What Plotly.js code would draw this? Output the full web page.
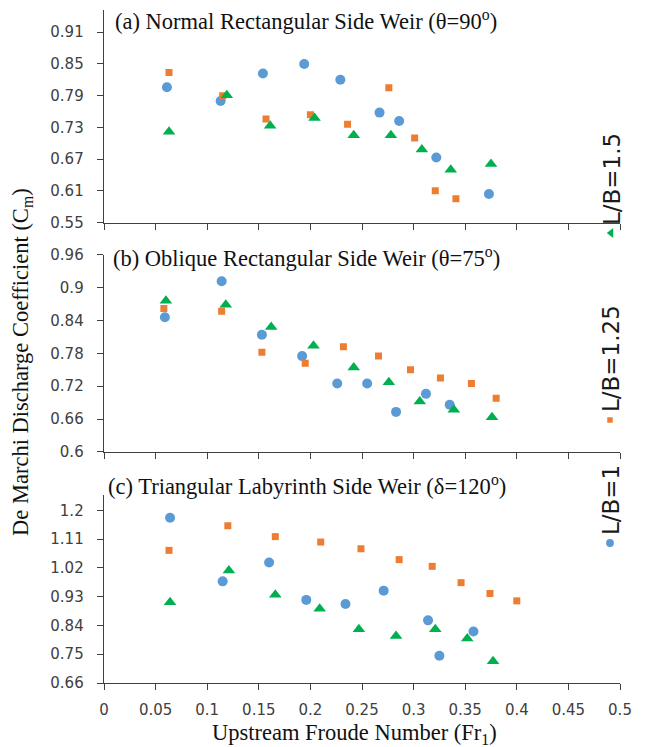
<!DOCTYPE html>
<html>
<head>
<meta charset="utf-8">
<script src="https://cdn.plot.ly/plotly-3.0.1.min.js"></script>
<style>html,body{margin:0;padding:0;background:#fff;}#chart{width:646px;height:747px;}</style>
</head>
<body>
<div id="chart"></div>
<script>
// ---------- DATA ----------
const seriesNames = ["L/B=1", "L/B=1.25", "L/B=1.5"];
const panelTitles = [
  "(a) Normal Rectangular Side Weir (θ=90<sup>o</sup>)",
  "(b) Oblique Rectangular Side Weir (θ=75<sup>o</sup>)",
  "(c) Triangular Labyrinth Side Weir (δ=120<sup>o</sup>)"
];
const xTitle = "Upstream Froude Number (Fr<sub>1</sub>)";
const yTitle = "De Marchi Discharge Coefficient (C<sub>m</sub>)";

// Panel (a)
const frA1   = [0.061, 0.113, 0.154, 0.194, 0.229, 0.267, 0.286, 0.322, 0.373];
const cmA1   = [0.806, 0.780, 0.832, 0.850, 0.820, 0.758, 0.742, 0.673, 0.604];
const frA125 = [0.063, 0.115, 0.157, 0.200, 0.236, 0.276, 0.301, 0.321, 0.341];
const cmA125 = [0.834, 0.790, 0.746, 0.754, 0.736, 0.805, 0.710, 0.610, 0.595];
const frA15  = [0.063, 0.119, 0.161, 0.204, 0.242, 0.278, 0.308, 0.336, 0.375];
const cmA15  = [0.722, 0.791, 0.733, 0.748, 0.715, 0.715, 0.688, 0.650, 0.661];

// Panel (b)
const frB1   = [0.059, 0.114, 0.153, 0.192, 0.226, 0.255, 0.283, 0.312, 0.335];
const cmB1   = [0.846, 0.912, 0.814, 0.775, 0.725, 0.725, 0.673, 0.706, 0.686];
const frB125 = [0.058, 0.114, 0.153, 0.195, 0.232, 0.266, 0.297, 0.326, 0.356, 0.380];
const cmB125 = [0.862, 0.857, 0.782, 0.762, 0.792, 0.775, 0.750, 0.735, 0.725, 0.698];
const frB15  = [0.060, 0.118, 0.162, 0.203, 0.242, 0.276, 0.306, 0.339, 0.376];
const cmB15  = [0.876, 0.869, 0.828, 0.794, 0.754, 0.727, 0.692, 0.677, 0.663];

// Panel (c)
const frC1   = [0.064, 0.115, 0.160, 0.196, 0.234, 0.271, 0.314, 0.325, 0.358];
const cmC1   = [1.177, 0.978, 1.037, 0.920, 0.907, 0.949, 0.856, 0.745, 0.821];
const frC125 = [0.063, 0.120, 0.166, 0.210, 0.249, 0.286, 0.318, 0.346, 0.374, 0.400];
const cmC125 = [1.075, 1.152, 1.118, 1.101, 1.080, 1.046, 1.025, 0.974, 0.940, 0.917];
const frC15  = [0.064, 0.121, 0.166, 0.209, 0.247, 0.283, 0.321, 0.352, 0.377];
const cmC15  = [0.913, 1.012, 0.936, 0.892, 0.828, 0.807, 0.828, 0.799, 0.728];

// ---------- STYLE ----------
const colors  = ["#5B9BD5", "#ED7D31", "#00B050"];
const symbols = ["circle", "square", "triangle-up"];
const sizes   = [10, 7, 11];
const serif = "Liberation Serif, Times New Roman, serif";
const sans  = "DejaVu Sans, sans-serif";

const panels = [
  {xa: "x",  ya: "y",  xs: [frA1, frA125, frA15], ys: [cmA1, cmA125, cmA15]},
  {xa: "x2", ya: "y2", xs: [frB1, frB125, frB15], ys: [cmB1, cmB125, cmB15]},
  {xa: "x3", ya: "y3", xs: [frC1, frC125, frC15], ys: [cmC1, cmC125, cmC15]}
];

const data = [];
panels.forEach((p, pi) => {
  for (let s = 0; s < 3; s++) {
    data.push({
      type: "scatter", mode: "markers",
      x: p.xs[s], y: p.ys[s], xaxis: p.xa, yaxis: p.ya,
      name: seriesNames[s],
      showlegend: pi === 0,
      marker: {color: colors[s], symbol: symbols[s], size: sizes[s], line: {width: 0}}
    });
  }
});

const axLine = "#404040";
function xAxis(anchor, labels) {
  return {
    anchor: anchor, domain: [0, 1], range: [0, 0.5], tick0: 0, dtick: 0.05,
    showgrid: false, zeroline: false, showline: true, linecolor: axLine, linewidth: 1.3,
    ticks: "outside", ticklen: 6, tickcolor: axLine, tickwidth: 1,
    showticklabels: labels, ticklabelstandoff: 7,
    tickfont: {family: sans, size: 15, color: "#404040"}
  };
}
function yAxis(anchor, domain, range, t0, dt, fmt) {
  const a = {
    anchor: anchor, domain: domain, range: range, tick0: t0, dtick: dt,
    showgrid: false, zeroline: false, showline: true, linecolor: axLine, linewidth: 1.3,
    ticks: "outside", ticklen: 6, tickcolor: axLine, tickwidth: 1,
    ticklabelstandoff: 10,
    tickfont: {family: sans, size: 15, color: "#404040"}
  };
  if (fmt) a.tickformat = fmt;
  return a;
}

const layout = {
  width: 646, height: 747,
  margin: {l: 104, r: 26, t: 10, b: 64},
  paper_bgcolor: "#fff", plot_bgcolor: "#fff",
  showlegend: true,
  legend: {orientation: "h", x: 0, y: 1, xanchor: "left", yanchor: "top",
           bgcolor: "rgba(0,0,0,0)", borderwidth: 0,
           font: {family: sans, size: 23, color: "#1a1a1a"}},
  xaxis:  xAxis("y", false),
  xaxis2: xAxis("y2", false),
  xaxis3: xAxis("y3", true),
  yaxis:  yAxis("x",  [0.6841, 1],      [0.55, 0.952], 0.55, 0.06, ".2f"),
  yaxis2: yAxis("x2", [0.3435, 0.6361], [0.6, 0.96],   0.6,  0.06, null),
  yaxis3: yAxis("x3", [0, 0.2797],      [0.66, 1.249], 0.66, 0.09, null),
  annotations: [
    {text: panelTitles[0], xref: "paper", yref: "paper", x: 0.0169, y: 0.985, xanchor: "left", yanchor: "middle",
     showarrow: false, font: {family: serif, size: 22.5, color: "#111"}},
    {text: panelTitles[1], xref: "paper", yref: "paper", x: 0.013, y: 0.633, xanchor: "left", yanchor: "middle",
     showarrow: false, font: {family: serif, size: 22.5, color: "#111"}},
    {text: panelTitles[2], xref: "paper", yref: "paper", x: 0.004, y: 0.2945, xanchor: "left", yanchor: "middle",
     showarrow: false, font: {family: serif, size: 22.5, color: "#111"}},
    {text: xTitle, xref: "paper", yref: "paper", x: 0.485, y: -0.0753, xanchor: "center", yanchor: "middle",
     showarrow: false, font: {family: serif, size: 22.5, color: "#111"}},
    {text: yTitle, xref: "paper", yref: "paper", x: -0.159, y: 0.477, xanchor: "center", yanchor: "middle",
     textangle: -90, showarrow: false, font: {family: serif, size: 22.5, color: "#111"}}
  ]
};

// legend placement (vertical, rotated, on the right side)
const legendSymbolX = 610;
const legendTargets = {"L/B=1": 543, "L/B=1.25": 420, "L/B=1.5": 233};

function parseT(el) {
  const m = /translate\(\s*([-\d.e]+)[,\s]+([-\d.e]+)\s*\)/.exec(el.getAttribute("transform") || "");
  return m ? [parseFloat(m[1]), parseFloat(m[2])] : [0, 0];
}

const gd = document.getElementById("chart");
Plotly.newPlot(gd, data, layout, {staticPlot: true, displayModeBar: false}).then(() => {
  const leg = gd.querySelector(".legend");
  if (!leg) return;
  leg.querySelectorAll("[clip-path]").forEach(e => e.removeAttribute("clip-path"));
  const bg = leg.querySelector("rect.bg");
  if (bg) bg.setAttribute("fill-opacity", 0);
  const Y0 = 600, X0 = 600;
  leg.setAttribute("transform", `translate(${X0},${Y0}) rotate(-90)`);
  const items = Array.from(leg.querySelectorAll(".traces"));
  items.forEach(it => {
    const txt = it.querySelector("text.legendtext");
    const label = txt ? txt.textContent : "";
    const T = legendTargets[label];
    if (T === undefined) return;
    if (txt) txt.setAttribute("x", 28);
    const sym = it.querySelector(".legendpoints path") || it.querySelector(".legendsymbols");
    if (!sym) return;
    const st = sym.getAttribute("transform") || "";
    if (sym.tagName.toLowerCase() === "path") sym.setAttribute("transform", st + " scale(0.78)");
    for (let k = 0; k < 2; k++) {
      const r = sym.getBoundingClientRect();
      const cx = r.left + r.width / 2, cy = r.top + r.height / 2;
      const [a, b] = parseT(it);
      const na = a - (T - cy);
      const nb = b + (legendSymbolX - cx);
      it.setAttribute("transform", `translate(${na},${nb})`);
    }
  });
});
</script>
</body>
</html>
